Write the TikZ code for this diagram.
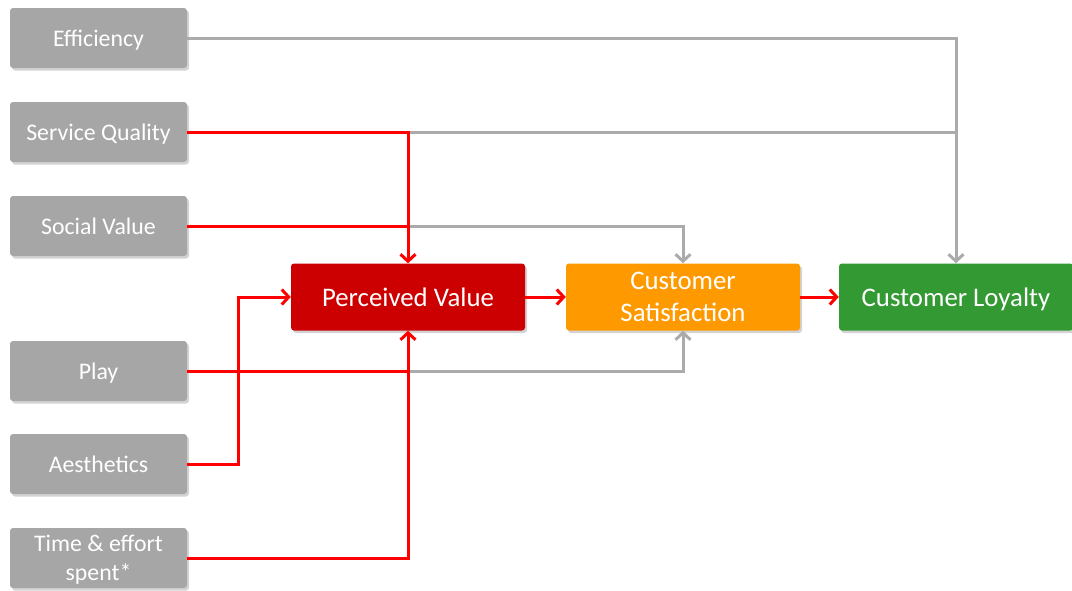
\documentclass[tikz,border=0pt]{standalone}
\usepackage{fontspec}
\setmainfont{Carlito}
\usetikzlibrary{arrows.meta,shadows}
\definecolor{boxgray}{HTML}{A6A6A6}
\definecolor{linegray}{HTML}{ABABAB}
\definecolor{pvred}{HTML}{CC0000}
\definecolor{csorange}{HTML}{FF9900}
\definecolor{clgreen}{HTML}{339933}
\definecolor{linkred}{HTML}{FF0000}
\tikzset{
  x=1pt, y=-1pt,
  boxbase/.style={rounded corners=3pt, text=white, align=center, inner sep=0pt,
    text depth=0pt,
    drop shadow={shadow xshift=2pt, shadow yshift=-2.5pt, opacity=0.35, fill=black!50}},
  factor/.style={boxbase, fill=boxgray, minimum width=177pt, minimum height=60pt,
    font=\fontsize{23.8}{29}\selectfont},
  stage/.style={boxbase, minimum width=234pt, minimum height=67pt,
    font=\fontsize{26.8}{32}\selectfont},
  tip/.style={-{Straight Barb[length=7pt,width=15pt,line width=3pt]}},
  grayline/.style={draw=linegray, line width=3pt},
  redline/.style={draw=linkred, line width=3pt},
}
\begin{document}
\begin{tikzpicture}
\useasboundingbox (0,0) rectangle (1072,590);

% input factors
\node[factor] (eff)  at (98.5,38)  {Efficiency};
\node[factor] (sq)   at (98.5,132) {Service Quality};
\node[factor] (sv)   at (98.5,226) {Social Value};
\node[factor] (play) at (98.5,371) {Play};
\node[factor] (aes)  at (98.5,464) {Aesthetics};
\node[factor] (time) at (98.5,558) {Time \& effort\\spent*};

% main chain
\node[stage, fill=pvred]    (pv) at (408,297) {Perceived Value};
\node[stage, fill=csorange] (cs) at (683,297) {Customer\\Satisfaction};
\node[stage, fill=clgreen]  (cl) at (956,297) {Customer Loyalty};

% direct (gray) paths
\draw[grayline, tip] (eff.east) -| (cl.north);
\draw[grayline] (sq.east -| pv.north) -- (sq.east -| cl.north);
\draw[grayline, tip] (sv.east -| pv.north) -| (cs.north);
\draw[grayline, tip] (play.east -| pv.north) -| (cs.south);

% paths through perceived value (red)
\draw[redline, tip] (sq.east) -| (pv.north);
\draw[redline] (sv.east) -- (sv.east -| pv.north);
\draw[redline] (play.east) -- (play.east -| pv.north);
\coordinate (aesbend) at (238,464);
\draw[redline, tip] (aes.east) -- (aesbend) |- (pv.west);
\draw[redline, tip] (time.east) -| (pv.south);
\draw[redline, tip] (pv.east) -- (cs.west);
\draw[redline, tip] (cs.east) -- (cl.west);
\end{tikzpicture}
\end{document}
